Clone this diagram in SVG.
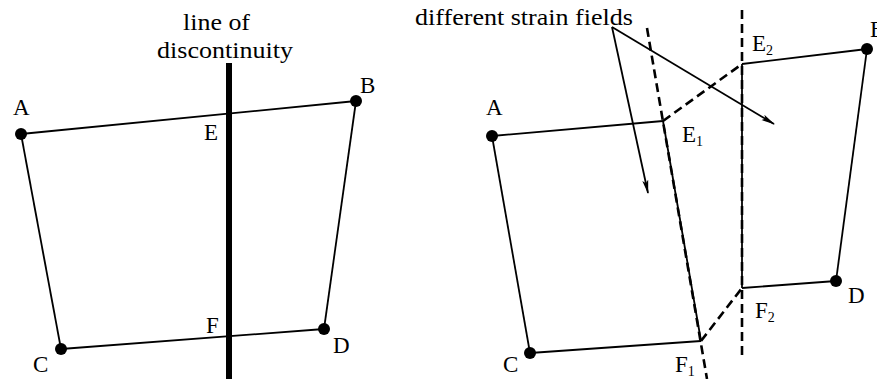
<svg xmlns="http://www.w3.org/2000/svg" width="877" height="379" viewBox="0 0 877 379" font-family="'Liberation Serif', serif">
<style>
text{font-family:'Liberation Serif',serif;font-size:23px;fill:#000}
.sub{font-size:14px}
.edge{stroke:#000;stroke-width:1.8;fill:none}
.dash{stroke:#000;stroke-width:2.6;fill:none;stroke-dasharray:9 5}
.dot{fill:#000}
</style>
<defs>
<marker id="ah" markerWidth="14" markerHeight="8" refX="13" refY="4" orient="auto" markerUnits="userSpaceOnUse">
<path d="M0,1 L14,4 L0,7 L3,4 Z" fill="#000"/>
</marker>
</defs>
<rect width="877" height="379" fill="#fff"/>
<g id="connectors">
<line class="edge" x1="21" y1="134" x2="356" y2="101"/>
<line class="edge" x1="21" y1="134" x2="61" y2="349"/>
<line class="edge" x1="61" y1="349" x2="324" y2="329"/>
<line class="edge" x1="324" y1="329" x2="356" y2="101"/>
<line x1="229" y1="63" x2="229" y2="379" stroke="#000" stroke-width="6"/>
<line class="edge" x1="492" y1="136" x2="663" y2="121"/>
<line class="edge" x1="492" y1="136" x2="530" y2="353"/>
<line class="edge" x1="530" y1="353" x2="701" y2="341"/>
<line class="edge" x1="742" y1="64" x2="867" y2="49"/>
<line class="edge" x1="742" y1="288" x2="836" y2="281"/>
<line class="edge" x1="836" y1="281" x2="867" y2="49"/>
<line class="dash" x1="742" y1="10" x2="742" y2="356"/>
<line class="edge" x1="742" y1="64" x2="742" y2="288" stroke-width="2.4"/>
<line class="dash" x1="647" y1="28" x2="707" y2="379"/>
<line class="edge" x1="663" y1="121" x2="701" y2="341" stroke-width="2.4"/>
<line class="dash" x1="663" y1="121" x2="742" y2="64"/>
<line class="dash" x1="701" y1="341" x2="742" y2="288"/>
<line class="edge" x1="612" y1="27" x2="648" y2="193" stroke-width="1.6" marker-end="url(#ah)"/>
<line class="edge" x1="612" y1="27" x2="774" y2="124" stroke-width="1.6" marker-end="url(#ah)"/>
</g>
<g id="label-line"><text x="183" y="30" textLength="67" lengthAdjust="spacingAndGlyphs">line of</text><text x="157" y="58" textLength="136" lengthAdjust="spacingAndGlyphs">discontinuity</text></g>
<g id="label-strain"><text x="415" y="25" textLength="218" lengthAdjust="spacingAndGlyphs">different strain fields</text></g>
<g id="nodeA1"><circle class="dot" cx="21" cy="134" r="6"/><text x="13" y="115">A</text></g>
<g id="nodeB1"><circle class="dot" cx="356" cy="101" r="6"/><text x="360" y="93">B</text></g>
<g id="nodeC1"><circle class="dot" cx="61" cy="349" r="6"/><text x="33" y="372">C</text></g>
<g id="nodeD1"><circle class="dot" cx="324" cy="329" r="6"/><text x="333" y="353">D</text></g>
<g id="nodeE1"><text x="204" y="140">E</text></g>
<g id="nodeF1"><text x="206" y="333">F</text></g>
<g id="nodeA2"><circle class="dot" cx="492" cy="136" r="6"/><text x="486" y="115">A</text></g>
<g id="nodeB2"><circle class="dot" cx="867" cy="49" r="6"/><text x="870" y="37">B</text></g>
<g id="nodeC2"><circle class="dot" cx="530" cy="353" r="6"/><text x="503" y="372">C</text></g>
<g id="nodeD2"><circle class="dot" cx="836" cy="281" r="6"/><text x="848" y="303">D</text></g>
<g id="nodeE1r"><text x="682" y="142">E<tspan class="sub" dy="4">1</tspan></text></g>
<g id="nodeE2r"><text x="752" y="51">E<tspan class="sub" dy="4">2</tspan></text></g>
<g id="nodeF1r"><text x="675" y="372">F<tspan class="sub" dy="4">1</tspan></text></g>
<g id="nodeF2r"><text x="755" y="318">F<tspan class="sub" dy="4">2</tspan></text></g>
</svg>
